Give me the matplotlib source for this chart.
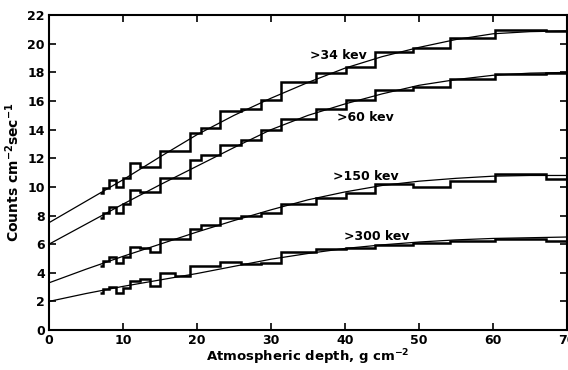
import matplotlib.pyplot as plt
import numpy as np

# bin edges of the histograms (g cm^-2)
edges = [6.9, 7.3, 8.1, 9.1, 10.0, 11.0, 12.3, 13.6, 15.0, 17.0, 19.0, 20.6,
         23.1, 26.0, 28.7, 31.4, 36.1, 40.1, 44.1, 49.2, 54.2, 60.3, 67.2, 70.0]

# measured counts in each bin
h34 = [9.6, 9.95, 10.5, 10.0, 10.6, 11.65, 11.42, 11.42, 12.5, 12.5, 13.75, 14.1,
       15.27, 15.43, 16.08, 17.33, 17.95, 18.4, 19.4, 19.7, 20.4, 20.93, 20.9]
h60 = [7.8, 8.2, 8.6, 8.15, 8.82, 9.77, 9.67, 9.67, 10.65, 10.65, 11.85, 12.2,
       12.94, 13.29, 13.99, 14.77, 15.47, 16.1, 16.78, 16.97, 17.55, 17.9, 17.99]
h150 = [4.5, 4.8, 5.08, 4.66, 5.13, 5.83, 5.75, 5.48, 6.34, 6.34, 7.04, 7.37,
        7.81, 7.97, 8.18, 8.83, 9.24, 9.56, 10.17, 10.02, 10.44, 10.9, 10.54]
h300 = [2.6, 2.85, 3.03, 2.56, 2.91, 3.45, 3.54, 3.08, 4.01, 3.78, 4.5, 4.5,
        4.75, 4.62, 4.65, 5.45, 5.68, 5.75, 5.94, 6.1, 6.24, 6.36, 6.22]

# smooth fitted curves
curve_x = [0, 5, 10, 15, 20, 25, 30, 35, 40, 45, 50, 55, 60, 65, 70]
c34 = [7.5, 9.0, 10.5, 12.1, 13.65, 15.0, 16.2, 17.3, 18.3, 19.1, 19.75, 20.3, 20.7, 20.85, 20.9]
c60 = [6.0, 7.4, 8.8, 10.15, 11.45, 12.75, 14.0, 15.0, 15.8, 16.5, 17.1, 17.5, 17.8, 17.95, 18.0]
c150 = [3.3, 4.25, 5.15, 6.0, 6.85, 7.65, 8.4, 9.1, 9.65, 10.1, 10.4, 10.6, 10.75, 10.8, 10.8]
c300 = [2.0, 2.55, 3.05, 3.5, 3.95, 4.45, 4.95, 5.35, 5.7, 5.95, 6.15, 6.3, 6.4, 6.45, 6.5]

labels = ['>34 kev', '>60 kev', '>150 kev', '>300 kev']
label_pos = [(39.1, 19.2), (42.7, 14.85), (42.8, 10.75), (44.3, 6.55)]

fig = plt.figure(figsize=(5.68, 3.7), dpi=100)
ax = fig.add_axes([0.0863, 0.108, 0.912, 0.851])

for h, c in [(h34, c34), (h60, c60), (h150, c150), (h300, c300)]:
    ax.stairs(h, edges, baseline=None, color='black', linewidth=1.8)
    ax.plot(curve_x, c, color='black', linewidth=0.9)

for txt, (lx, ly) in zip(labels, label_pos):
    ax.text(lx, ly, txt, ha='center', va='center', fontsize=9, fontweight='bold')

ax.set_xlim(0, 70)
ax.set_ylim(0, 22)
ax.set_xticks(np.arange(0, 71, 10))
ax.set_yticks(np.arange(0, 23, 2))
ax.tick_params(direction='in', length=5, width=1.2, top=True, right=True,
               labelsize=9, pad=3)
for lab in ax.get_xticklabels() + ax.get_yticklabels():
    lab.set_fontweight('bold')
for sp in ax.spines.values():
    sp.set_linewidth(1.5)

ax.set_xlabel(r'Atmospheric depth, g cm$^{\mathbf{-2}}$', fontsize=9.5,
              fontweight='bold', labelpad=0)
ax.set_ylabel(r'Counts cm$^{\mathbf{-2}}$sec$^{\mathbf{-1}}$', fontsize=10,
              fontweight='bold', labelpad=4)

fig.savefig('out.png', dpi=100)
